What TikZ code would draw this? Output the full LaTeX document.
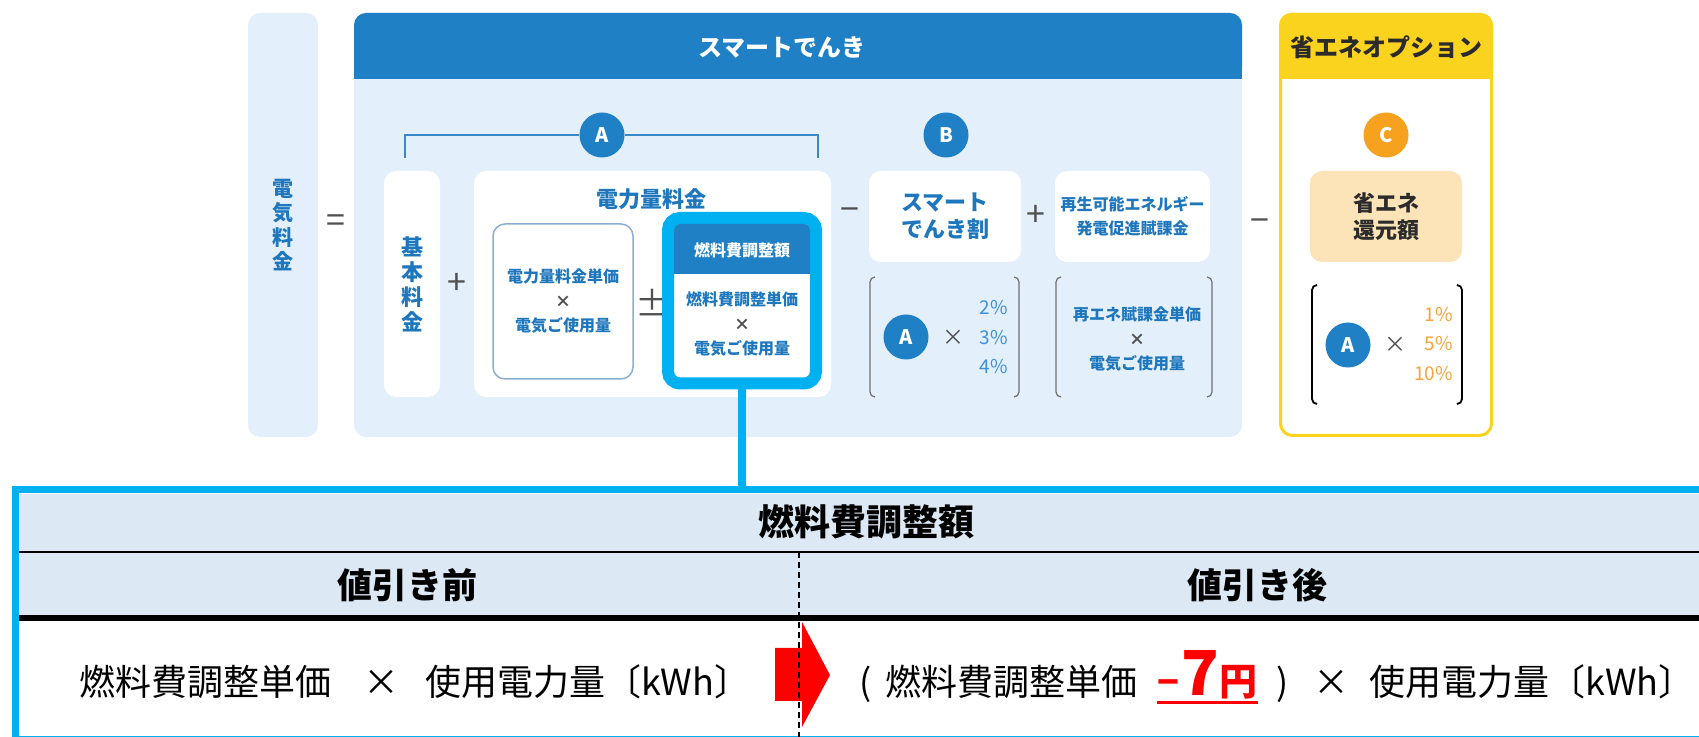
\documentclass[tikz,border=0pt]{standalone}
\usepackage{fontspec}
\setmainfont{Noto Sans CJK JP}
\usepackage{tikz}
\usetikzlibrary{positioning,calc}
\definecolor{hdblue}{HTML}{1F80C6}
\definecolor{paleblue}{HTML}{E3EFFA}
\definecolor{txtblue}{HTML}{1E77BD}
\definecolor{linkblue}{HTML}{3A88CA}
\definecolor{boxline}{HTML}{8AAFD3}
\definecolor{pctblue}{HTML}{3E91D6}
\definecolor{hlcyan}{HTML}{00B0F0}
\definecolor{ygold}{HTML}{FAD31E}
\definecolor{orng}{HTML}{F6A21E}
\definecolor{pctorng}{HTML}{F7A33A}
\definecolor{pchorng}{HTML}{FDE4B8}
\definecolor{darktxt}{HTML}{2B2B2B}
\definecolor{opgray}{HTML}{505050}
\definecolor{parengray}{HTML}{707070}
\definecolor{tabfill}{HTML}{DDE8F5}
\tikzset{
  card/.style={fill=white, rounded corners=6pt, inner sep=0pt},
  bluetxt/.style={text=txtblue, align=center, font=\bfseries\fontsize{11}{13.5}\selectfont},
  smalltxt/.style={text=txtblue, align=center, font=\bfseries\fontsize{8}{12.25}\selectfont},
  badge/.style={circle, fill=#1, text=white, minimum size=22.5pt, inner sep=0pt, font=\bfseries\fontsize{10}{10}\selectfont},
  opsign/.style={text=opgray, inner sep=0pt, font=\fontsize{17}{17}\selectfont},
  times/.style={text=opgray, inner sep=0pt, font=\fontsize{11}{11}\selectfont},
  pct/.style={text=#1, align=right, inner sep=0pt, font=\fontsize{9.5}{14.75}\selectfont},
  rowtxt/.style={inner sep=0pt, font=\fontsize{18}{18}\selectfont},
  headtxt/.style={font=\bfseries\fontsize{18}{18}\selectfont}
}
\newcommand{\tallparens}[5]{%
  \draw[#5, rounded corners=2.5pt] (#1+5,#3) -- (#1,#3) -- (#1,#4) -- (#1+5,#4);
  \draw[#5, rounded corners=2.5pt] (#2-5,#3) -- (#2,#3) -- (#2,#4) -- (#2-5,#4);}
\begin{document}
\begin{tikzpicture}[x=0.5pt,y=-0.5pt]
\useasboundingbox (0,0) rectangle (1699,737);
\clip (0,0) rectangle (1699,737);

\node[card, fill=paleblue, minimum width=35pt, minimum height=212pt, bluetxt, font=\bfseries\fontsize{10.5}{12.25}\selectfont] (elec) at (283,225) {電\\気\\料\\金};
\node[opsign] (eq) at (336,224) {=};

\node[card, fill=paleblue, minimum width=444pt, minimum height=212pt] (smart) at (798,225) {};
\fill[hdblue, rounded corners=6pt] (354,13) rectangle (1242,79);
\fill[hdblue] (354,50) rectangle (1242,79);
\node[text=white, font=\bfseries\fontsize{12}{12}\selectfont] (smarthd) at (782,47) {スマートでんき};

\node[badge=hdblue] (circA) at (602,135) {A};
\coordinate (brl) at (405,158);
\coordinate (brr) at (818,158);
\draw[linkblue, line width=1pt] (brl) |- (circA) -| (brr);

\node[card, minimum width=28pt, minimum height=113pt, bluetxt, font=\bfseries\fontsize{11}{12.5}\selectfont] (kihon) at (412,284) {基\\本\\料\\金};
\node[opsign] (plusA) at (457,284) {+};
\node[card, minimum width=178.5pt, minimum height=113pt] (ryokin) at (652.5,284) {};
\node[bluetxt] (ryokinhd) at (651,199) {電力量料金};
\node[card, draw=boxline, line width=0.75pt, minimum width=70pt, minimum height=77.5pt, smalltxt] (tanka) at (563,301.5) {電力量料金単価\\{\color{opgray}×}\\電気ご使用量};
\node[opsign] (pm) at (652,303) {±};

\node[card, draw=hlcyan, line width=6pt, minimum width=74pt, minimum height=82.75pt] (fuelhl) at (742,300.75) {};
\fill[hdblue, rounded corners=3pt] (674,224) rectangle (810,274);
\fill[hdblue] (674,250) rectangle (810,274);
\node[smalltxt, text=white] (fuelhd) at (742,250) {燃料費調整額};
\node[smalltxt] (fuelbody) at (742,324.5) {燃料費調整単価\\{\color{opgray}×}\\電気ご使用量};

\node[opsign] (minusB) at (850,215) {−};
\node[badge=hdblue] (circB) at (946,135) {B};
\node[card, minimum width=76pt, minimum height=45.5pt, bluetxt] (wari) at (945,216.5) {スマート\\でんき割};
\node[opsign] (plusB) at (1036,216) {+};
\node[card, minimum width=77.5pt, minimum height=45.5pt, smalltxt, font=\bfseries\fontsize{8}{12}\selectfont] (fuka) at (1132.5,216.5) {再生可能エネルギー\\発電促進賦課金};

\tallparens{870}{1019}{277}{397}{parengray, line width=0.6pt}
\node[badge=hdblue] (circA2) at (906,337) {A};
\node[times] (timesB) at (953,338) {×};
\node[pct=pctblue, anchor=east] (pctB) at (1008,337.5) {2\%\\3\%\\4\%};
\tallparens{1056}{1212}{277}{397}{parengray, line width=0.6pt}
\node[smalltxt] (fukatanka) at (1137,339.5) {再エネ賦課金単価\\{\color{opgray}×}\\電気ご使用量};

\node[opsign] (minusC) at (1260,226) {−};
\node[card, draw=ygold, line width=1.5pt, minimum width=105.5pt, minimum height=210.5pt] (opt) at (1386,225) {};
\fill[ygold, rounded corners=6pt] (1279,13) rectangle (1493,79);
\fill[ygold] (1279,50) rectangle (1493,79);
\node[text=darktxt, font=\bfseries\fontsize{12}{12}\selectfont] (opthd) at (1386,47) {省エネオプション};
\node[badge=orng] (circC) at (1386,135) {C};
\node[card, fill=pchorng, minimum width=76pt, minimum height=45.5pt, bluetxt, text=darktxt] (kangen) at (1386,216.5) {省エネ\\還元額};
\tallparens{1312}{1462}{285}{404}{black, line width=0.9pt}
\node[badge=hdblue] (circA3) at (1348,345) {A};
\node[times] (timesC) at (1395,345) {×};
\node[pct=pctorng, anchor=east] (pctC) at (1453,344) {1\%\\5\%\\10\%};

\coordinate (tabtop) at (742,490);
\draw[hlcyan, line width=4pt] (fuelhl.south) -- (tabtop);
\fill[tabfill] (19,494) rectangle (1720,615);
\draw[line width=1pt] (19,552) -- (1720,552);
\draw[line width=3pt] (19,618) -- (1720,618);
\draw[hlcyan, line width=3.5pt] (15.5,490) rectangle (1720,739.5);
\node[headtxt] (tabhd) at (866,522) {燃料費調整額};
\node[headtxt, font=\bfseries\fontsize{17.5}{17.5}\selectfont] (before) at (407,585) {値引き前};
\node[headtxt, font=\bfseries\fontsize{17.5}{17.5}\selectfont] (after) at (1257,585) {値引き後};

\fill[red] (775,648) -- (802,648) -- (802,622) -- (830,675) -- (802,727) -- (802,701) -- (775,701) -- cycle;
\draw[line width=0.75pt, dash pattern=on 3pt off 2pt] (799,552) -- (799,737);

\node[rowtxt, anchor=base] (beforecalc) at (415,696) {燃料費調整単価\hspace{0.9em}×\hspace{0.7em}使用電力量〔kWh〕};
\node[rowtxt, anchor=base west] (afterl) at (859,696) {(\hspace{0.4em}燃料費調整単価};
\node[base right=9.5pt of afterl, inner sep=0pt, text=red, font=\bfseries] (minus7) {{\fontsize{18}{18}\selectfont −}\hspace{0.1em}{\fontsize{31}{31}\selectfont 7}{\fontsize{19}{19}\selectfont 円}};
\node[rowtxt, base right=9pt of minus7] (afterr) {)\hspace{0.7em}×\hspace{0.55em}使用電力量〔kWh〕};
\draw[red, line width=1.5pt] ([yshift=-3.5pt]minus7.base west) -- ([yshift=-3.5pt]minus7.base east);
\end{tikzpicture}
\end{document}
